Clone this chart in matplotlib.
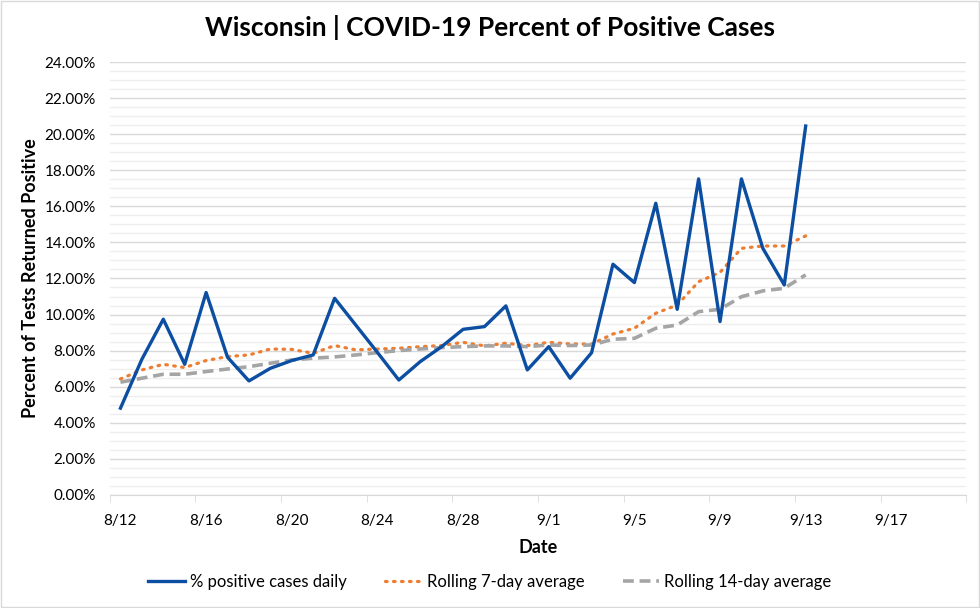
import numpy as np
import pandas as pd
import matplotlib
matplotlib.use("Agg")
from matplotlib import pyplot as plt
import matplotlib.dates as mdates
from matplotlib.ticker import MultipleLocator, FuncFormatter

plt.rcParams['font.family'] = ['Lato', 'DejaVu Sans']

start = "2020-08-12"
daily = [4.81, 7.52, 9.74, 7.24, 11.22, 7.63, 6.32, 7.02, 7.45, 7.76, 10.90,
         9.40, 7.90, 6.37, 7.39, 8.22, 9.18, 9.33, 10.48, 6.93, 8.22, 6.47,
         7.88, 12.79, 11.77, 16.17, 10.29, 17.52, 9.61, 17.52, 13.67, 11.64, 20.45]
avg7 = [6.43, 6.93, 7.24, 7.06, 7.45, 7.67, 7.76, 8.09, 8.07, 7.85, 8.28,
        8.04, 8.09, 8.13, 8.22, 8.28, 8.46, 8.26, 8.41, 8.28, 8.46, 8.37,
        8.36, 8.92, 9.24, 10.07, 10.53, 11.82, 12.34, 13.67, 13.80, 13.80, 14.36]
avg14 = [6.25, 6.47, 6.69, 6.69, 6.84, 6.98, 7.11, 7.30, 7.48, 7.58, 7.65,
         7.76, 7.89, 8.00, 8.09, 8.17, 8.22, 8.26, 8.26, 8.22, 8.31, 8.28,
         8.31, 8.63, 8.68, 9.24, 9.42, 10.16, 10.29, 10.99, 11.31, 11.46, 12.20]
axis_days = 40  # date axis runs 8/12 .. 9/20

dates = pd.date_range(start, periods=len(daily))
x = mdates.date2num(dates)
x0 = x[0]

fig = plt.figure(figsize=(9.8, 6.08), dpi=100)
ax = fig.add_axes([0.112, 0.186, 0.874, 0.712])

ax.plot(x, daily, color="#0b4ea2", lw=2.4, label="% positive cases daily", zorder=3)
ax.plot(x, avg7, color="#ed7d31", lw=2.3, linestyle=(0, (0.5, 2.0)),
        dash_capstyle="round", label="Rolling 7-day average", zorder=2)
ax.plot(x, avg14, color="#a5a5a5", lw=2.6, linestyle=(0, (3, 1.6)),
        label="Rolling 14-day average", zorder=2)

ax.set_ylim(0, 24)
ax.set_xlim(x0 - 0.5, x0 + axis_days - 0.5)
ax.yaxis.set_major_locator(MultipleLocator(2))
ax.yaxis.set_minor_locator(MultipleLocator(0.5))
ax.yaxis.set_major_formatter(FuncFormatter(lambda v, p: f"{v:.2f}%"))
ax.grid(which="major", axis="y", color="#d9d9d9", lw=1.0)
ax.grid(which="minor", axis="y", color="#eeeeee", lw=1.0)
ax.set_axisbelow(True)

label_pos = np.arange(0, axis_days, 4) + x0
ax.set_xticks(label_pos)
ax.set_xticklabels([f"{d.month}/{d.day}" for d in mdates.num2date(label_pos)])
ax.set_xticks(np.arange(-0.5, axis_days, 4) + x0, minor=True)
ax.tick_params(axis="x", which="major", length=0, pad=14, labelsize=11)
ax.tick_params(axis="x", which="minor", length=5, color="#d9d9d9")
ax.tick_params(axis="y", which="both", length=0, pad=10, labelsize=11)

for s in ["top", "right", "left"]:
    ax.spines[s].set_visible(False)
ax.spines["bottom"].set_color("#d9d9d9")

ax.set_xlabel("Date", fontsize=13, fontweight="bold", labelpad=8)
ax.set_ylabel("Percent of Tests Returned Positive", fontsize=13, fontweight="bold", labelpad=4)
fig.suptitle("Wisconsin | COVID-19 Percent of Positive Cases", fontsize=19,
             fontweight="bold", y=0.975)

fig.legend(loc="center", bbox_to_anchor=(0.5, 0.043), ncol=3, frameon=False,
           fontsize=12, handlelength=2.2, columnspacing=2.3, handletextpad=0.3)

fig.patches.append(plt.Rectangle((0.001, 0.001), 0.998, 0.998, transform=fig.transFigure,
                                 fill=False, edgecolor="#d9d9d9", lw=1))

fig.savefig("out.png", dpi=100)
